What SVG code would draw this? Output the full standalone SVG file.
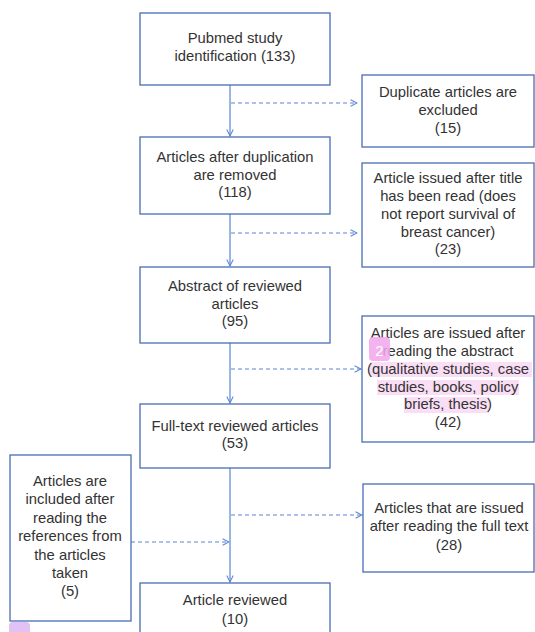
<svg xmlns="http://www.w3.org/2000/svg" width="535" height="632" viewBox="0 0 535 632">
<style>
.box{fill:#fff;stroke:#4a6cb3;stroke-width:1.3}
.t{font-family:"Liberation Sans",Arial,sans-serif;font-size:14.8px;fill:#333;text-anchor:middle}
.c{fill:none;stroke:#5a86d6;stroke-width:1.2}
.d{stroke-dasharray:4 3}
</style>
<defs>
<marker id="ah" viewBox="0 0 10 10" refX="9" refY="5" markerWidth="8" markerHeight="8" markerUnits="userSpaceOnUse" orient="auto">
<path d="M1 1 L9 5 L1 9" fill="none" stroke="#5a86d6" stroke-width="1.3"/>
</marker>
</defs>
<rect width="535" height="632" fill="#fff"/>
<g id="connectors">
<line class="c" x1="230" y1="85" x2="230" y2="136" marker-end="url(#ah)"/>
<line class="c" x1="230" y1="214" x2="230" y2="266" marker-end="url(#ah)"/>
<line class="c" x1="230" y1="343" x2="230" y2="403" marker-end="url(#ah)"/>
<line class="c" x1="230" y1="468" x2="230" y2="582" marker-end="url(#ah)"/>
<line class="c d" x1="231" y1="103" x2="357" y2="103" marker-end="url(#ah)"/>
<line class="c d" x1="231" y1="233" x2="357" y2="233" marker-end="url(#ah)"/>
<line class="c d" x1="231" y1="369" x2="361" y2="369" marker-end="url(#ah)"/>
<line class="c d" x1="231" y1="515" x2="362" y2="515" marker-end="url(#ah)"/>
<line class="c d" x1="131" y1="542" x2="229" y2="542" marker-end="url(#ah)"/>
</g>
<g id="n1"><rect class="box" x="140" y="13" width="190" height="72"/>
<text class="t" x="235" y="43">Pubmed study</text><text class="t" x="235" y="61">identification (133)</text></g>
<g id="n2"><rect class="box" x="362" y="75" width="172" height="72"/>
<text class="t" x="448" y="97">Duplicate articles are</text><text class="t" x="448" y="115">excluded</text><text class="t" x="448" y="133">(15)</text></g>
<g id="n3"><rect class="box" x="140" y="137" width="190" height="77"/>
<text class="t" x="235" y="162">Articles after duplication</text><text class="t" x="235" y="180">are removed</text><text class="t" x="235" y="197">(118)</text></g>
<g id="n4"><rect class="box" x="362" y="163" width="172" height="104"/>
<text class="t" x="448" y="183">Article issued after title</text><text class="t" x="448" y="201">has been read (does</text><text class="t" x="448" y="219">not report survival of</text><text class="t" x="448" y="237">breast cancer)</text><text class="t" x="448" y="254">(23)</text></g>
<g id="n5"><rect class="box" x="140" y="267" width="190" height="76"/>
<text class="t" x="235" y="291">Abstract of reviewed</text><text class="t" x="235" y="309">articles</text><text class="t" x="235" y="326">(95)</text></g>
<g id="n6"><rect class="box" x="362" y="316" width="172" height="126"/>
<rect x="370" y="362" width="162" height="15" fill="#f7c8ee" opacity="0.6"/>
<rect x="377" y="380" width="142" height="15" fill="#f7c8ee" opacity="0.6"/>
<rect x="404" y="397" width="85" height="16" fill="#f7c8ee" opacity="0.6"/>
<text class="t" x="448" y="338">Articles are issued after</text><text class="t" x="448" y="356">reading the abstract</text><text class="t" x="448" y="374">(qualitative studies, case</text><text class="t" x="448" y="392">studies, books, policy</text><text class="t" x="448" y="409">briefs, thesis)</text><text class="t" x="448" y="427">(42)</text>
<rect x="369" y="337" width="21" height="24" rx="4" fill="#f2a6ec" opacity="0.85"/>
<text x="379.5" y="356" font-family="Liberation Sans,Arial,sans-serif" font-size="15" fill="#fff" text-anchor="middle">2</text></g>
<g id="n7"><rect class="box" x="140" y="404" width="190" height="64"/>
<text class="t" x="235" y="431">Full-text reviewed articles</text><text class="t" x="235" y="448">(53)</text></g>
<g id="n8"><rect class="box" x="10" y="455" width="121" height="166"/>
<text class="t" x="70" y="486">Articles are</text><text class="t" x="70" y="504">included after</text><text class="t" x="70" y="523">reading the</text><text class="t" x="70" y="541">references from</text><text class="t" x="70" y="560">the articles</text><text class="t" x="70" y="578">taken</text><text class="t" x="70" y="596">(5)</text></g>
<g id="n9"><rect class="box" x="363" y="484" width="171" height="88"/>
<text class="t" x="449" y="513">Articles that are issued</text><text class="t" x="449" y="531">after reading the full text</text><text class="t" x="449" y="550">(28)</text></g>
<g id="n10"><rect class="box" x="140" y="583" width="190" height="60"/>
<text class="t" x="235" y="605">Article reviewed</text><text class="t" x="235" y="624">(10)</text></g>
<g id="badge2"><rect x="9" y="622" width="21" height="20" rx="4" fill="#e2c2f4"/></g>
</svg>
